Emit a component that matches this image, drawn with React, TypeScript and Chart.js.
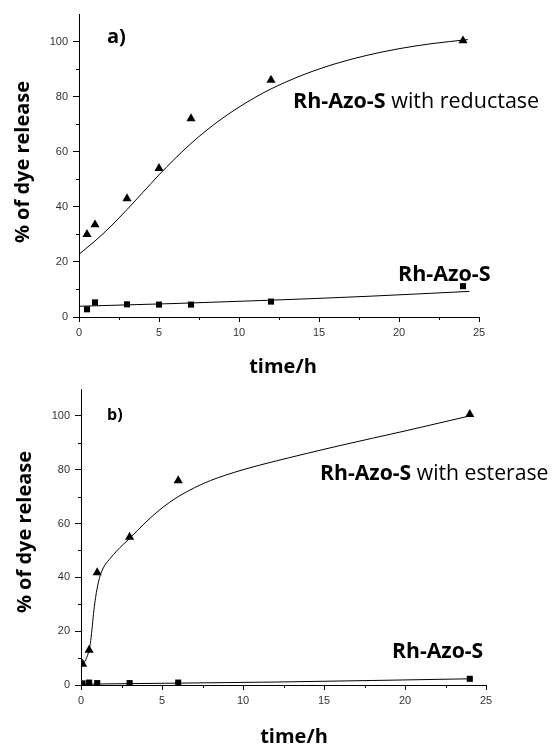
import React, { useEffect, useRef } from "react";
import { Chart, registerables } from "chart.js";

Chart.register(...registerables);

// ---------- Panel a) ----------
const timeA = [0.5, 1, 3, 5, 7, 12, 24];
const reductaseA = [30, 33.5, 43, 54, 72, 86, 100.3];
const controlA = [2.8, 5.3, 4.6, 4.5, 4.5, 5.6, 11.2];
const fitTimeA = [0, 1, 2, 3, 4, 5, 6, 7, 8, 9, 10, 11, 12, 14, 16, 18, 20, 22, 24.3];
const fitReductaseA = [22.8, 27.6, 33, 39, 45.3, 51.6, 57.5, 63, 67.9, 72.3, 76.2, 79.7, 82.8, 87.9, 91.9, 95, 97.4, 99.2, 100.7];
const fitCtrlTimeA = [0, 6, 12, 18, 24.4];
const fitControlA = [3.9, 4.9, 6.1, 7.5, 9.3];

// ---------- Panel b) ----------
const timeB = [0.1, 0.5, 1, 3, 6, 24];
const esteraseB = [7.8, 13, 41.8, 55, 76, 100.6];
const controlB = [0.6, 0.9, 0.7, 0.7, 0.9, 2.3];
const fitTimeB = [0.1, 0.3, 0.5, 0.6, 0.7, 0.8, 0.9, 1.0, 1.15, 1.3, 1.5, 1.8, 2.2, 2.6, 3, 4, 5, 6, 7, 8, 10, 12, 16, 20, 24];
const fitEsteraseB = [7.5, 9.5, 13, 16.5, 22, 28, 32.5, 36, 40, 42.5, 44.8, 47, 49.8, 52.2, 54.5, 60.5, 65.8, 70, 73.3, 76, 80, 83.2, 89, 94.4, 100];
const fitCtrlTimeB = [0, 6, 12, 24];
const fitControlB = [0.3, 0.7, 1.1, 2.3];

// ---------- Axes ----------
const xTicks = [0, 5, 10, 15, 20, 25];
const xMinor = [2.5, 7.5, 12.5, 17.5, 22.5];
const yTicks = [0, 20, 40, 60, 80, 100];
const yMinor = [10, 30, 50, 70, 90];
const xMax = 25;
const yMax = 110;

const yTitle = "% of dye release";
const xTitle = "time/h";

type Part = { text: string; bold: boolean };
type Label = { x: number; y: number; size: number; parts: Part[] };

const TXT_FONT = "'Open Sans', sans-serif";

const decorPlugin = {
  id: "decor",
  afterDraw(chart: any, _args: any, opts: any) {
    const ctx = chart.ctx as CanvasRenderingContext2D;
    const xs = chart.scales.x;
    const ys = chart.scales.y;
    ctx.save();
    ctx.strokeStyle = "#000";
    ctx.lineWidth = 1;
    // minor ticks
    xMinor.forEach((v) => {
      const px = Math.round(xs.getPixelForValue(v)) + 0.5;
      ctx.beginPath();
      ctx.moveTo(px, ys.bottom);
      ctx.lineTo(px, ys.bottom + 3);
      ctx.stroke();
    });
    yMinor.forEach((v) => {
      const py = Math.round(ys.getPixelForValue(v)) + 0.5;
      ctx.beginPath();
      ctx.moveTo(xs.left, py);
      ctx.lineTo(xs.left - 3, py);
      ctx.stroke();
    });
    ctx.fillStyle = "#000";
    // labels
    (opts.labels as Label[]).forEach((l) => {
      let x = l.x;
      ctx.textBaseline = "alphabetic";
      ctx.textAlign = "left";
      l.parts.forEach((p) => {
        ctx.font = `${p.bold ? "bold " : ""}${l.size}px ${TXT_FONT}`;
        ctx.fillText(p.text, x, l.y);
        x += ctx.measureText(p.text).width;
      });
    });
    // y title
    ctx.save();
    ctx.translate(opts.yTitleX, opts.yTitleY);
    ctx.rotate(-Math.PI / 2);
    ctx.font = `bold 20px ${TXT_FONT}`;
    ctx.textAlign = "center";
    ctx.textBaseline = "middle";
    ctx.fillText(yTitle, 0, 0);
    ctx.restore();
    // x title
    ctx.font = `bold 20px ${TXT_FONT}`;
    ctx.textAlign = "center";
    ctx.textBaseline = "alphabetic";
    ctx.fillText(xTitle, opts.xTitleX, opts.xTitleY);
    ctx.restore();
  },
};

type PanelProps = {
  top: number;
  height: number;
  pts: { t: number[]; enz: number[]; ctrl: number[] };
  fit: { t: number[]; enz: number[]; ct: number[]; ctrl: number[] };
  padding: { left: number; top: number; right: number; bottom: number };
  yWidth: number;
  xHeight: number;
  decor: any;
};

function Panel(props: PanelProps) {
  const ref = useRef<HTMLCanvasElement | null>(null);
  useEffect(() => {
    if (!ref.current) return;
    const { pts, fit } = props;
    const chart = new Chart(ref.current, {
      type: "scatter",
      data: {
        datasets: [
          {
            type: "line",
            data: fit.t.map((t, i) => ({ x: t, y: fit.enz[i] })),
            borderColor: "#000",
            borderWidth: 1,
            pointRadius: 0,
            cubicInterpolationMode: "monotone",
            fill: false,
          },
          {
            type: "line",
            data: fit.ct.map((t, i) => ({ x: t, y: fit.ctrl[i] })),
            borderColor: "#000",
            borderWidth: 1,
            pointRadius: 0,
            cubicInterpolationMode: "monotone",
            fill: false,
          },
          {
            data: pts.t.map((t, i) => ({ x: t, y: pts.enz[i] })),
            pointStyle: "triangle",
            pointRadius: 5.3,
            backgroundColor: "#000",
            borderColor: "#000",
            borderWidth: 0,
          },
          {
            data: pts.t.map((t, i) => ({ x: t, y: pts.ctrl[i] })),
            pointStyle: "rect",
            pointRadius: 4.3,
            backgroundColor: "#000",
            borderColor: "#000",
            borderWidth: 0,
          },
        ],
      } as any,
      options: {
        responsive: false,
        animation: false,
        devicePixelRatio: 1,
        layout: { padding: props.padding },
        plugins: {
          legend: { display: false },
          tooltip: { enabled: false },
          decor: props.decor,
        } as any,
        scales: {
          x: {
            type: "linear",
            min: 0,
            max: xMax,
            afterBuildTicks: (s: any) => {
              s.ticks = xTicks.map((v) => ({ value: v }));
            },
            afterFit: (s: any) => {
              s.height = props.xHeight;
            },
            grid: { display: true, drawOnChartArea: false, drawTicks: true, tickLength: 5, color: "#000" },
            border: { display: true, color: "#000", width: 1 },
            ticks: {
              padding: 4,
              color: "#333",
              font: { family: "'Liberation Sans', Arial, sans-serif", size: 11 },
              maxRotation: 0,
            },
          },
          y: {
            type: "linear",
            min: 0,
            max: yMax,
            afterBuildTicks: (s: any) => {
              s.ticks = yTicks.map((v) => ({ value: v }));
            },
            afterFit: (s: any) => {
              s.width = props.yWidth;
            },
            grid: { display: true, drawOnChartArea: false, drawTicks: true, tickLength: 6, color: "#000" },
            border: { display: true, color: "#000", width: 1 },
            ticks: {
              padding: 5,
              color: "#333",
              font: { family: "'Liberation Sans', Arial, sans-serif", size: 11 },
            },
          },
        },
      } as any,
      plugins: [decorPlugin as any],
    });
    return () => chart.destroy();
  }, []);
  return (
    <canvas
      ref={ref}
      width={556}
      height={props.height}
      style={{ position: "absolute", left: 0, top: props.top, width: 556, height: props.height, display: "block" }}
    />
  );
}

export default function App() {
  return (
    <div style={{ position: "absolute", left: 0, top: 0, width: 556, height: 745, background: "#fff", overflow: "hidden" }}>
      <Panel
        top={0}
        height={385}
        pts={{ t: timeA, enz: reductaseA, ctrl: controlA }}
        fit={{ t: fitTimeA, enz: fitReductaseA, ct: fitCtrlTimeA, ctrl: fitControlA }}
        padding={{ left: 0, top: 14, right: 77, bottom: 43 }}
        yWidth={79}
        xHeight={25}
        decor={{
          labels: [
            { x: 107, y: 43, size: 20, parts: [{ text: "a)", bold: true }] },
            {
              x: 293,
              y: 108,
              size: 21.5,
              parts: [
                { text: "Rh-Azo-S", bold: true },
                { text: " with reductase", bold: false },
              ],
            },
            { x: 398, y: 281, size: 21.5, parts: [{ text: "Rh-Azo-S", bold: true }] },
          ],
          yTitleX: 23,
          yTitleY: 162,
          xTitleX: 283,
          xTitleY: 373,
        }}
      />
      <Panel
        top={370}
        height={375}
        pts={{ t: timeB, enz: esteraseB, ctrl: controlB }}
        fit={{ t: fitTimeB, enz: fitEsteraseB, ct: fitCtrlTimeB, ctrl: fitControlB }}
        padding={{ left: 0, top: 19, right: 70, bottom: 35 }}
        yWidth={81}
        xHeight={25}
        decor={{
          labels: [
            { x: 107, y: 50, size: 16, parts: [{ text: "b)", bold: true }] },
            {
              x: 320,
              y: 110,
              size: 21.2,
              parts: [
                { text: "Rh-Azo-S", bold: true },
                { text: " with esterase", bold: false },
              ],
            },
            { x: 392, y: 288, size: 21.2, parts: [{ text: "Rh-Azo-S", bold: true }] },
          ],
          yTitleX: 25,
          yTitleY: 162,
          xTitleX: 294,
          xTitleY: 373,
        }}
      />
    </div>
  );
}
